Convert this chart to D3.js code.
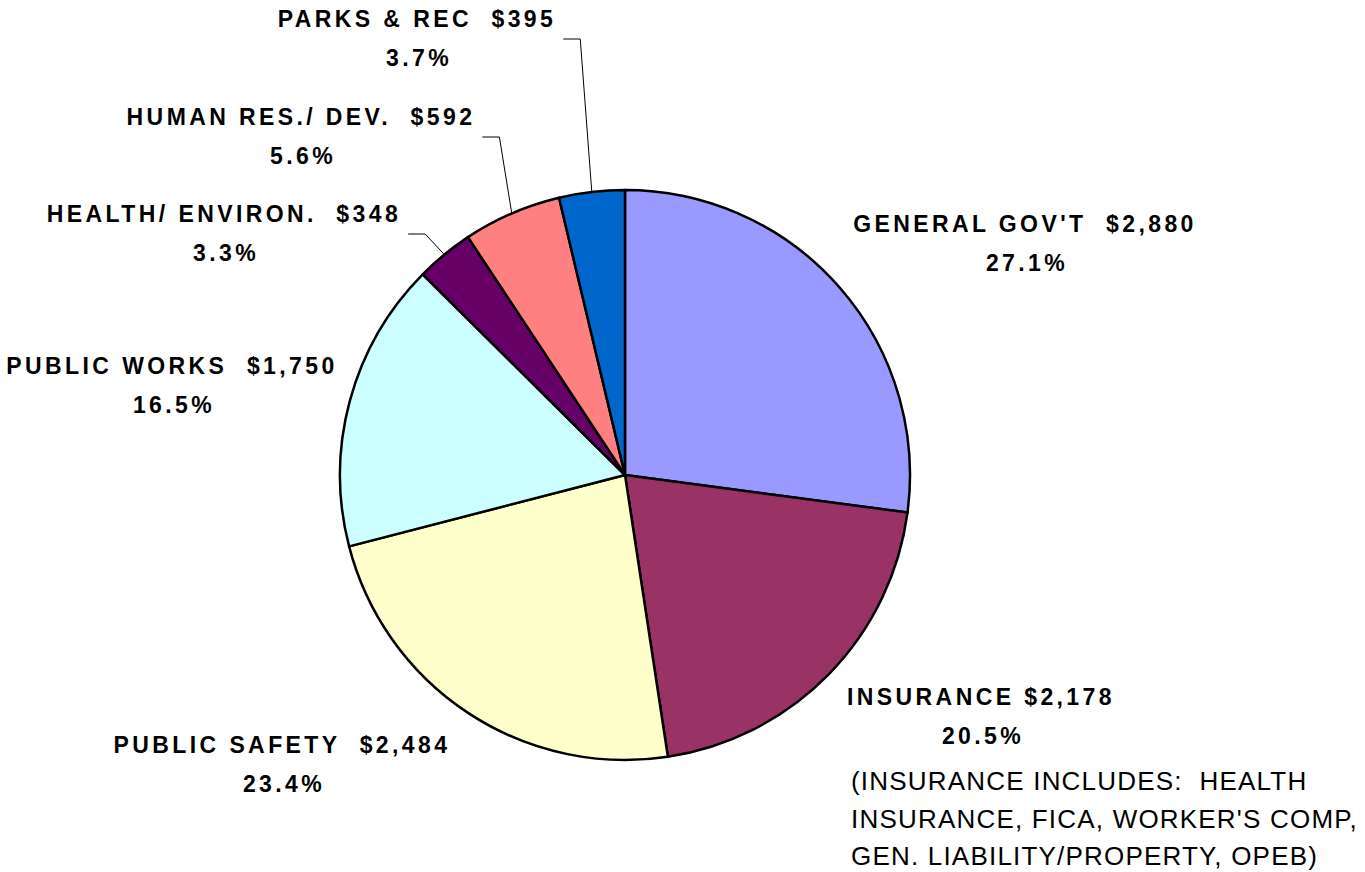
<!DOCTYPE html>
<html>
<head>
<meta charset="utf-8">
<script src="https://cdn.jsdelivr.net/npm/d3@7"></script>
<style>
  html, body { margin: 0; padding: 0; background: #fff; }
  svg { display: block; font-family: Arial, "Liberation Sans", sans-serif; }
</style>
</head>
<body>
<svg class="pie" width="1365" height="872"></svg>
<script>
var categories = ["GENERAL GOV'T", "INSURANCE", "PUBLIC SAFETY", "PUBLIC WORKS",
  "HEALTH/ ENVIRON.", "HUMAN RES./ DEV.", "PARKS & REC"];
var amounts = [2880, 2178, 2484, 1750, 348, 592, 395];
var amountLabels = ["$2,880", "$2,178", "$2,484", "$1,750", "$348", "$592", "$395"];
var percentLabels = ["27.1%", "20.5%", "23.4%", "16.5%", "3.3%", "5.6%", "3.7%"];
var hasLeader = [false, false, false, false, true, true, true];
var noteLines = ["(INSURANCE INCLUDES:  HEALTH", "INSURANCE, FICA, WORKER'S COMP,",
  "GEN. LIABILITY/PROPERTY, OPEB)"];

(function () {
  var cx = 625, cy = 475, radius = 285;
  var colours = ["#9999ff", "#993366", "#ffffcc", "#ccffff", "#660066", "#ff8080", "#0066cc"];
  // label centre x and first baseline y, one per slice
  var labelPos = [[1025, 232], [981, 705], [282, 753], [172, 374], [224, 222], [301, 125], [417, 27]];
  var gaps = ["  ", " ", "  ", "  ", "  ", "  ", "  "];
  var lineGap = 39;

  var svg = d3.select(".pie");
  var data = amounts.map(function (v, i) { return { i: i, value: v }; });

  var pie = d3.pie()
    .value(function (d) { return d.value; })
    .sort(null);
  var arcs = pie(data);

  var arc = d3.arc().innerRadius(0).outerRadius(radius);

  var g = svg.append("g")
    .attr("transform", "translate(" + cx + "," + cy + ")");

  g.selectAll("path")
    .data(arcs)
    .enter().append("path")
      .attr("d", arc)
      .style("fill", function (d) { return colours[d.data.i]; })
      .style("stroke", "#000")
      .style("stroke-width", 2.5)
      .style("stroke-linejoin", "round");

  var labels = svg.append("g").attr("class", "labels");

  arcs.forEach(function (d, i) {
    var p = labelPos[i];
    var t1 = labels.append("text")
      .attr("x", p[0])
      .attr("y", p[1])
      .attr("text-anchor", "middle")
      .style("font-size", "23px")
      .style("font-weight", "bold")
      .style("letter-spacing", "3.4px")
      .style("white-space", "pre")
      .text(categories[i] + gaps[i] + amountLabels[i]);

    labels.append("text")
      .attr("x", p[0] + 2)
      .attr("y", p[1] + lineGap)
      .attr("text-anchor", "middle")
      .style("font-size", "23px")
      .style("font-weight", "bold")
      .style("letter-spacing", "3.4px")
      .text(percentLabels[i]);

    if (hasLeader[i]) {
      var box = t1.node().getBBox();
      var x0 = box.x + box.width + 7;
      var y0 = p[1] + 12;
      var a = (d.startAngle + d.endAngle) / 2;
      var ex = cx + radius * Math.sin(a);
      var ey = cy - radius * Math.cos(a);
      labels.append("path")
        .attr("d", "M" + x0 + "," + y0 + "H" + (x0 + 17) + "L" + ex + "," + ey)
        .style("fill", "none")
        .style("stroke", "#000")
        .style("stroke-width", 1);
    }
  });

  svg.append("g").attr("class", "note")
    .selectAll("text")
    .data(noteLines)
    .enter().append("text")
      .attr("x", 851)
      .attr("y", function (d, i) { return 790 + i * 37.5; })
      .style("font-size", "26px")
      .style("letter-spacing", "1.2px")
      .style("white-space", "pre")
      .text(function (d) { return d; });
})();
</script>
</body>
</html>
